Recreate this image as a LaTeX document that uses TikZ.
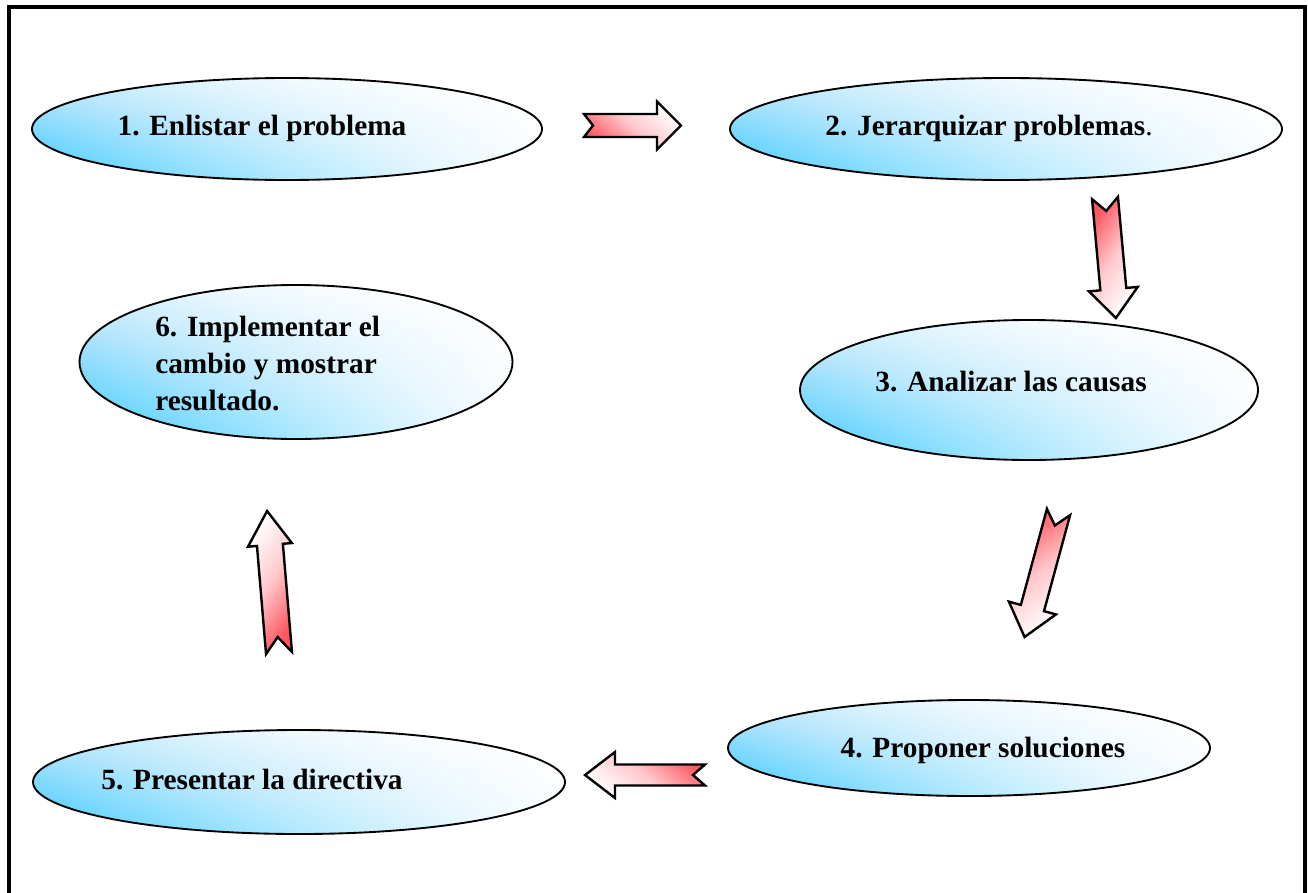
\documentclass[tikz,border=0pt]{standalone}
\usepackage{fontspec}
\setmainfont{Liberation Serif}
\usetikzlibrary{shapes.geometric, fadings}

\definecolor{skyblue}{RGB}{70,205,255}
\definecolor{paleblue}{RGB}{175,228,252}
\definecolor{arrowred}{RGB}{255,85,95}
\definecolor{arrowpink}{RGB}{255,200,205}

% white wash that grows towards the right-hand end of a stage
\tikzfading[name=washright, left color=transparent!100, middle color=transparent!55,
  right color=transparent!5]

\tikzset{
  stage/.style={ellipse, draw=black, line width=1.4pt, inner sep=0pt,
    preaction={top color=white, bottom color=skyblue, middle color=paleblue, shading angle=-8},
    preaction={fill=white, path fading=washright}},
  stagetext/.style={font=\fontsize{22}{27.75}\selectfont\bfseries, align=left, inner sep=0pt},
  blockarrow/.style={draw=black, line width=1.8pt, line join=miter,
    top color=white, bottom color=arrowred, middle color=arrowpink},
}

% block arrow with a notched tail: #1 shading angle, #2 tail centre, #3 rotation,
% #4 length, #5 shaft half width, #6 head half width, #7 head length, #8 notch depth
\newcommand{\notcharrow}[8]{%
  \begin{scope}[shift={#2}, rotate=#3]
    \path[blockarrow, shading angle=#1]
      (0,-#5) -- ({#4-#7},-#5) -- ({#4-#7},-#6) -- (#4,0) -- ({#4-#7},#6)
      -- ({#4-#7},#5) -- (0,#5) -- (#8,0) -- cycle;
  \end{scope}}

\begin{document}
\begin{tikzpicture}[x=0.75pt, y=-0.75pt]
  \clip (0,0) rectangle (1308,892);
  \fill[white] (0,0) rectangle (1308,892);

  % outer frame (its lower edge runs past the page)
  \draw[line width=3.2pt] (9,7) rectangle (1305,910);

  % stages
  \node[stage, minimum width=510*0.75pt, minimum height=102*0.75pt] (e1) at (287,129) {};
  \node[stage, minimum width=552*0.75pt, minimum height=102*0.75pt] (e2) at (1006,129) {};
  \node[stage, minimum width=458*0.75pt, minimum height=140*0.75pt] (e3) at (1029,390) {};
  \node[stage, minimum width=482*0.75pt, minimum height=96*0.75pt]  (e4) at (969,748) {};
  \node[stage, minimum width=532*0.75pt, minimum height=104*0.75pt] (e5) at (299,782) {};
  \node[stage, minimum width=433*0.75pt, minimum height=154*0.75pt] (e6) at (296,362) {};

  \node[stagetext] (t1) at (262,128) {1. Enlistar el problema};
  \node[stagetext] (t2) at (989,128) {2. Jerarquizar problemas{\mdseries.}};
  \node[stagetext] (t3) at (1011,382) {3. Analizar las causas};
  \node[stagetext] (t4) at (983,750) {4. Proponer soluciones};
  \node[stagetext] (t5) at (252,780) {5. Presentar la directiva};
  \node[stagetext, anchor=west] (t6) at (155,364)
    {6. Implementar el\\cambio y mostrar\\resultado.};

  % flow arrows
  \notcharrow{-40}{(584,125.5)}{0}{97}{11.5}{24}{24}{9}
  \notcharrow{-125}{(1105,198)}{-84.8}{120.5}{13}{24.5}{29}{13}
  \notcharrow{-145}{(1058.5,512)}{-105.2}{129.5}{12}{24.4}{30}{14}
  \notcharrow{-220}{(705,775)}{180}{120}{10.5}{23}{30}{12}
  \notcharrow{55}{(279,653)}{94.8}{142.5}{13}{22}{34}{16}
\end{tikzpicture}
\end{document}
